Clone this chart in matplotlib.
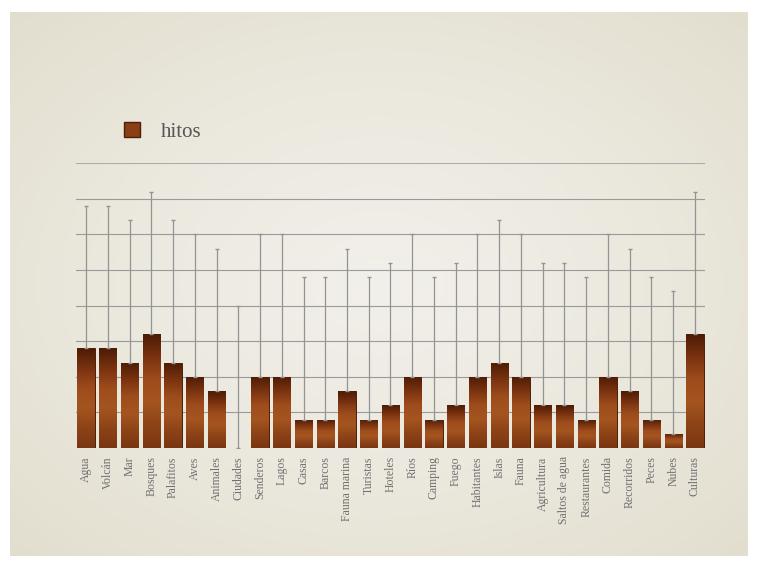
import numpy as np
import matplotlib
matplotlib.use("Agg")
import matplotlib.pyplot as plt
from matplotlib.patches import Rectangle
from matplotlib.colors import LinearSegmentedColormap

categories = ["Agua", "Volcán", "Mar", "Bosques", "Palafitos", "Aves", "Animales",
              "Ciudades", "Senderos", "Lagos", "Casas", "Barcos", "Fauna marina",
              "Turistas", "Hoteles", "Ríos", "Camping", "Fuego", "Habitantes",
              "Islas", "Fauna", "Agricultura", "Saltos de agua", "Restaurantes",
              "Comida", "Recorridos", "Peces", "Nubes", "Culturas"]
hitos = [7, 7, 6, 8, 6, 5, 4, 0, 5, 5, 2, 2, 4, 2, 3, 5, 2, 3, 5, 6, 5, 3, 3, 2,
         5, 4, 2, 1, 8]
error = [10] * len(hitos)
series_name = "hitos"

W, H = 758, 568
fig = plt.figure(figsize=(W / 100, H / 100), dpi=100)
fig.patch.set_facecolor("white")

# paper background
bg = fig.add_axes([10 / W, 1 - 556 / H, 738 / W, 544 / H])
yy, xx = np.mgrid[0:1:200j, 0:1:260j]
r = np.sqrt((xx - 0.5) ** 2 + (yy - 0.5) ** 2)
paper_cmap = LinearSegmentedColormap.from_list("paper", ["#f2f0ea", "#ebe8de", "#e2dece"])
bg.imshow(r, cmap=paper_cmap, aspect="auto", extent=(0, 1, 0, 1), vmin=0, vmax=0.72)
bg.set_axis_off()

ax = fig.add_axes([76 / W, 1 - 448 / H, 629 / W, 285 / H])
ax.patch.set_alpha(0)
x = np.arange(len(categories))

for v in np.arange(2.5, 20.1, 2.5):
    ax.axhline(v, color="#9a9a9a" if v < 20 else "#ababab", lw=0.8 if v < 20 else 1.5,
               zorder=1)

bars = ax.bar(x, hitos, width=0.8, color="#8a3f14", edgecolor="#4e1f06",
              linewidth=0.7, zorder=2, label=series_name)

wood = LinearSegmentedColormap.from_list(
    "wood", ["#4e1c05", "#7a3310", "#9e4c1c", "#a4551f", "#8e4317", "#7a3612"])
grad = np.linspace(0, 1, 64).reshape(-1, 1)
for b in bars:
    if b.get_height() <= 0:
        continue
    bx, by, bw, bh = b.get_x(), b.get_y(), b.get_width(), b.get_height()
    im = ax.imshow(grad, cmap=wood, aspect="auto", extent=(bx, bx + bw, by, by + bh),
                   origin="upper", zorder=2.5)
    im.set_clip_path(b)

ax.errorbar(x, hitos, yerr=[[0] * len(hitos), error], fmt="none", ecolor="#939393",
            elinewidth=0.9, capsize=1.6, capthick=1.0, zorder=3)
ax.vlines(x, 0, hitos, color="#939393", lw=0.9, zorder=1.5)

ax.set_xlim(-0.46, len(categories) - 0.54)
ax.set_ylim(0, 20)
ax.set_xticks(x)
ax.set_xticklabels(categories, rotation=90, fontsize=8.5, color="#707070",
                   family="Liberation Serif")
ax.tick_params(axis="x", length=0, pad=6)
ax.set_yticks([])
for s in ax.spines.values():
    s.set_visible(False)

leg = fig.legend(handles=[Rectangle((0, 0), 1, 1, facecolor="#8a3f14", edgecolor="#4e1f06")],
                 labels=[series_name], loc="upper left",
                 bbox_to_anchor=(124 / W, 1 - 122 / H), frameon=False,
                 handlelength=0.75, handleheight=0.75, handletextpad=1.0,
                 borderpad=0, borderaxespad=0,
                 prop={"family": "Liberation Serif", "size": 15})
for t in leg.get_texts():
    t.set_color("#555555")

fig.savefig("out.png", dpi=100, facecolor=fig.get_facecolor())
